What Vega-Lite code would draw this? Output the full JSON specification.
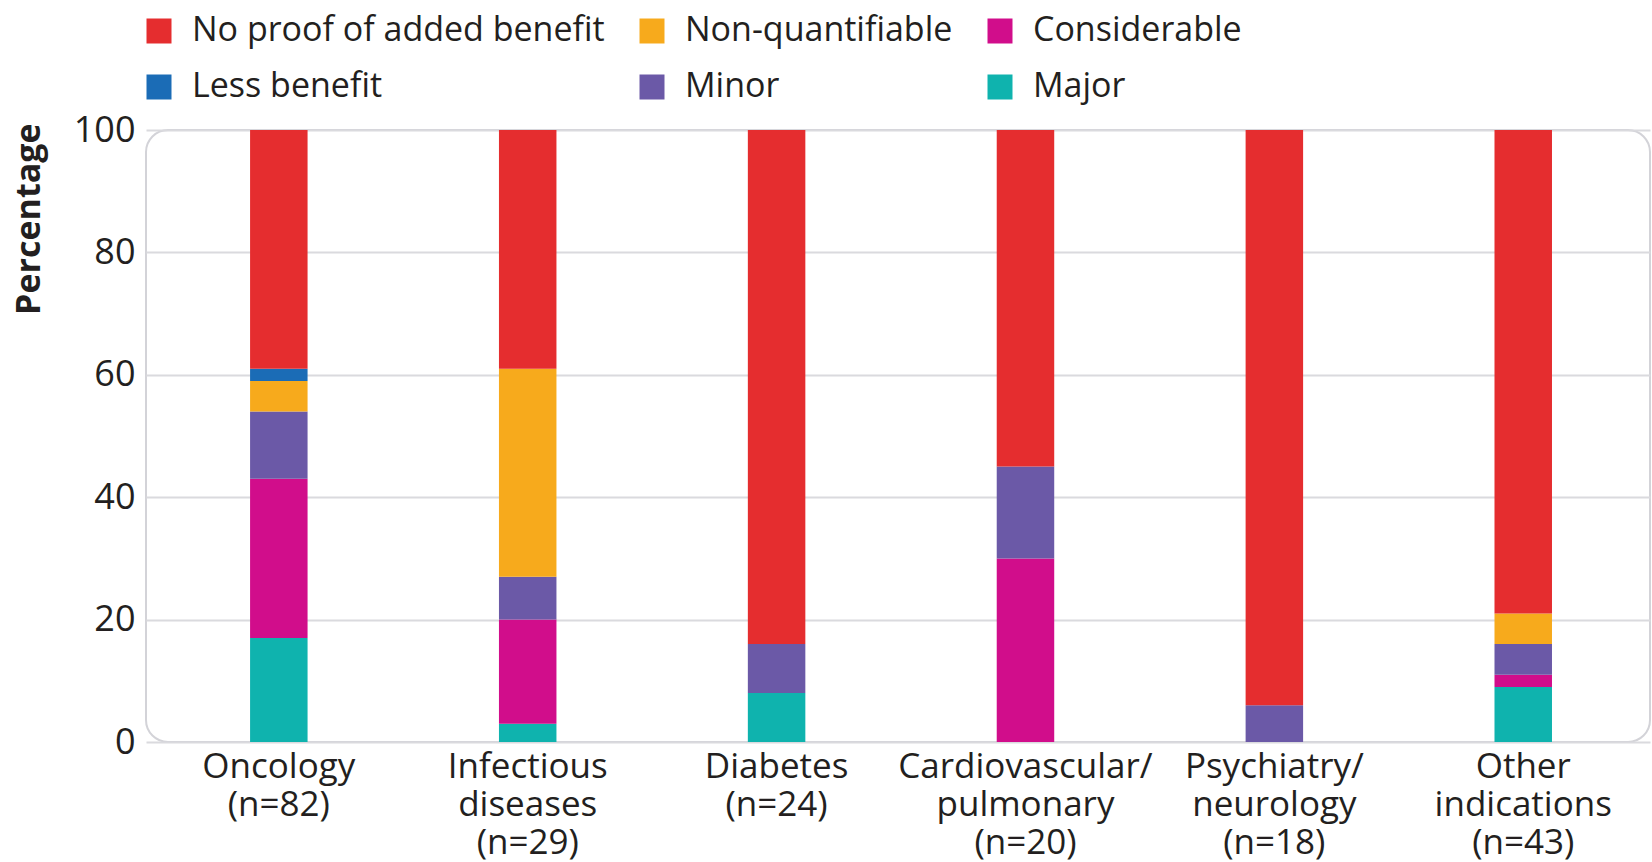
{
  "$schema": "https://vega.github.io/schema/vega-lite/v6.json",
  "autosize": {"type": "none"},
  "padding": {"left": 146, "top": 130, "right": 2, "bottom": 120},
  "width": 1504,
  "height": 612,
  "config": {
    "font": "Open Sans",
    "view": {"stroke": "#d3d3d8", "strokeWidth": 2, "cornerRadius": 22},
    "axis": {"labelColor": "#231f20", "titleColor": "#231f20", "labelFont": "Open Sans", "titleFont": "Open Sans"}
  },
  "data": {
    "values": [
      {"category": "Oncology|(n=82)", "benefit": "Major", "pct": 17},
      {"category": "Oncology|(n=82)", "benefit": "Considerable", "pct": 26},
      {"category": "Oncology|(n=82)", "benefit": "Minor", "pct": 11},
      {"category": "Oncology|(n=82)", "benefit": "Non-quantifiable", "pct": 5},
      {"category": "Oncology|(n=82)", "benefit": "Less benefit", "pct": 2},
      {"category": "Oncology|(n=82)", "benefit": "No proof of added benefit", "pct": 39},
      {"category": "Infectious|diseases|(n=29)", "benefit": "Major", "pct": 3},
      {"category": "Infectious|diseases|(n=29)", "benefit": "Considerable", "pct": 17},
      {"category": "Infectious|diseases|(n=29)", "benefit": "Minor", "pct": 7},
      {"category": "Infectious|diseases|(n=29)", "benefit": "Non-quantifiable", "pct": 34},
      {"category": "Infectious|diseases|(n=29)", "benefit": "No proof of added benefit", "pct": 39},
      {"category": "Diabetes|(n=24)", "benefit": "Major", "pct": 8},
      {"category": "Diabetes|(n=24)", "benefit": "Minor", "pct": 8},
      {"category": "Diabetes|(n=24)", "benefit": "No proof of added benefit", "pct": 84},
      {"category": "Cardiovascular/|pulmonary|(n=20)", "benefit": "Considerable", "pct": 30},
      {"category": "Cardiovascular/|pulmonary|(n=20)", "benefit": "Minor", "pct": 15},
      {"category": "Cardiovascular/|pulmonary|(n=20)", "benefit": "No proof of added benefit", "pct": 55},
      {"category": "Psychiatry/|neurology|(n=18)", "benefit": "Minor", "pct": 6},
      {"category": "Psychiatry/|neurology|(n=18)", "benefit": "No proof of added benefit", "pct": 94},
      {"category": "Other|indications|(n=43)", "benefit": "Major", "pct": 9},
      {"category": "Other|indications|(n=43)", "benefit": "Considerable", "pct": 2},
      {"category": "Other|indications|(n=43)", "benefit": "Minor", "pct": 5},
      {"category": "Other|indications|(n=43)", "benefit": "Non-quantifiable", "pct": 5},
      {"category": "Other|indications|(n=43)", "benefit": "No proof of added benefit", "pct": 79}
    ]
  },
  "transform": [
    {"calculate": "indexof(['Major','Considerable','Minor','Non-quantifiable','Less benefit','No proof of added benefit'], datum.benefit)", "as": "stackRank"}
  ],
  "mark": {"type": "bar"},
  "encoding": {
    "x": {
      "field": "category",
      "type": "nominal",
      "sort": null,
      "scale": {"paddingInner": 0.769, "paddingOuter": 0.406, "align": 0.515},
      "axis": {
        "title": null,
        "labelAngle": 0,
        "labelExpr": "split(datum.label, '|')",
        "labelFontSize": 35,
        "labelLineHeight": 38,
        "labelPadding": 7,
        "labelLimit": 400,
        "ticks": false,
        "domain": false,
        "grid": false
      }
    },
    "y": {
      "field": "pct",
      "type": "quantitative",
      "stack": "zero",
      "scale": {"domain": [0, 100], "nice": false},
      "axis": {
        "title": "Percentage",
        "values": [0, 20, 40, 60, 80, 100],
        "labelFontSize": 36,
        "labelPadding": 11,
        "ticks": false,
        "domain": false,
        "gridColor": "#dadade",
        "gridWidth": 2,
        "titleFontSize": 34,
        "titleFontWeight": "bold",
        "titleAngle": -90,
        "titleAlign": "right",
        "titleBaseline": "bottom",
        "titleX": -100,
        "titleY": -7
      }
    },
    "color": {
      "field": "benefit",
      "type": "nominal",
      "scale": {
        "domain": ["No proof of added benefit", "Non-quantifiable", "Considerable", "Less benefit", "Minor", "Major"],
        "range": ["#e52d2f", "#f7aa1c", "#d10d8b", "#1b6cb6", "#6b59a7", "#0fb3ae"]
      },
      "legend": {
        "title": null,
        "orient": "none",
        "legendX": -4,
        "legendY": -116,
        "direction": "horizontal",
        "columns": 3,
        "columnPadding": 30,
        "rowPadding": 22,
        "padding": 0,
        "symbolType": "square",
        "symbolSize": 625,
        "symbolStrokeWidth": 0,
        "symbolOpacity": 1,
        "labelFontSize": 34,
        "labelOffset": 16,
        "labelLimit": 600,
        "labelColor": "#231f20",
        "labelFont": "Open Sans"
      }
    },
    "order": {"field": "stackRank", "type": "quantitative", "sort": "ascending"}
  }
}
